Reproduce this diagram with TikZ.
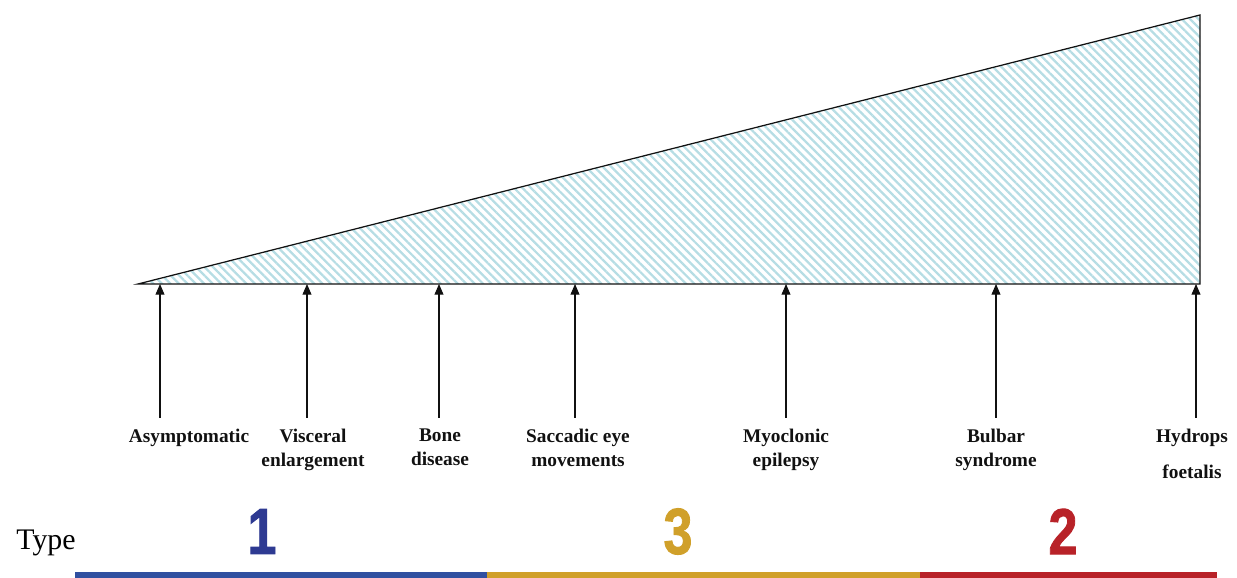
\documentclass[tikz,border=0pt]{standalone}
\usepackage{fontspec}
\usepackage{graphicx}
\usepackage{xcolor}
\usepackage{tikz}
\usetikzlibrary{arrows.meta,patterns.meta}
\newfontfamily\numfont{Liberation Sans Bold}[FakeBold=1.5]
\newfontfamily\signfont{Liberation Serif}
\definecolor{inkK}{HTML}{111111}
\definecolor{hatchC}{HTML}{B6DDE4}
\definecolor{typeA}{HTML}{2E3A92}
\definecolor{barA}{HTML}{3050A0}
\definecolor{typeB}{HTML}{D0A02A}
\definecolor{typeC}{HTML}{B82228}

\begin{document}
\begin{tikzpicture}[
    sign/.style={font=\signfont\bfseries\fontsize{11}{13.6}\selectfont, text=inkK,
                 align=center, anchor=north, inner sep=0pt,
                 execute at begin node=\vphantom{Ald}},
    typenum/.style={font=\numfont\fontsize{37}{40}\selectfont, inner sep=0pt},
    typebar/.style={line width=0.12cm},
    up/.style={draw=inkK, line width=0.6pt, -{Triangle[length=6pt,width=5pt]}}
  ]
  \useasboundingbox (0,0) rectangle (24.74,11.56);

  % severity wedge
  \coordinate (apex) at (2.76,5.88);
  \coordinate (peak) at (24.0,11.26);
  \coordinate (foot) at (24.0,5.88);
  \fill[pattern={Lines[angle=-45,distance=3.4pt,line width=1.3pt]}, pattern color=hatchC]
    (apex) -- (peak) -- (foot) -- cycle;
  \draw[inkK, line width=0.7pt] (apex) -- (peak) -- (foot) -- cycle;

  % phenotypes
  \foreach \name/\ax/\lx/\txt in {
      asym/3.2/3.78/{Asymptomatic},
      visc/6.14/6.26/{Visceral\\enlargement},
      bone/8.78/8.8/{Bone\\disease},
      sacc/11.5/11.56/{Saccadic eye\\movements},
      myoc/15.72/15.72/{Myoclonic\\epilepsy},
      bulb/19.92/19.92/{Bulbar\\syndrome}} {
    \coordinate (\name-lo) at (\ax,3.2);
    \coordinate (\name-hi) at (\ax,5.88);
    \draw[up] (\name-lo) -- (\name-hi);
    \node[sign] (\name) at (\lx,2.98) {\txt};
  }
  \coordinate (hydr-lo) at (23.92,3.2);
  \coordinate (hydr-hi) at (23.92,5.88);
  \draw[up] (hydr-lo) -- (hydr-hi);
  \node[sign] (hydr) at (23.84,2.98) {Hydrops\\[7pt]foetalis};

  % types
  \node[font=\signfont\fontsize{17}{20}\selectfont, anchor=base, inner sep=0pt] (type) at (0.92,0.56) {Type};
  \node[typenum, text=typeA] (t1) at (5.24,0.93) {\scalebox{0.8}[1]{1}};
  \node[typenum, text=typeB] (t3) at (13.56,0.93) {\scalebox{0.8}[1]{3}};
  \node[typenum, text=typeC] (t2) at (21.26,0.93) {\scalebox{0.8}[1]{2}};
  \coordinate (b0) at (1.5,0.06);
  \coordinate (b1) at (9.74,0.06);
  \coordinate (b2) at (18.4,0.06);
  \coordinate (b3) at (24.34,0.06);
  \draw[typebar, barA] (b0) -- (b1);
  \draw[typebar, typeB] (b1) -- (b2);
  \draw[typebar, typeC] (b2) -- (b3);
\end{tikzpicture}
\end{document}
